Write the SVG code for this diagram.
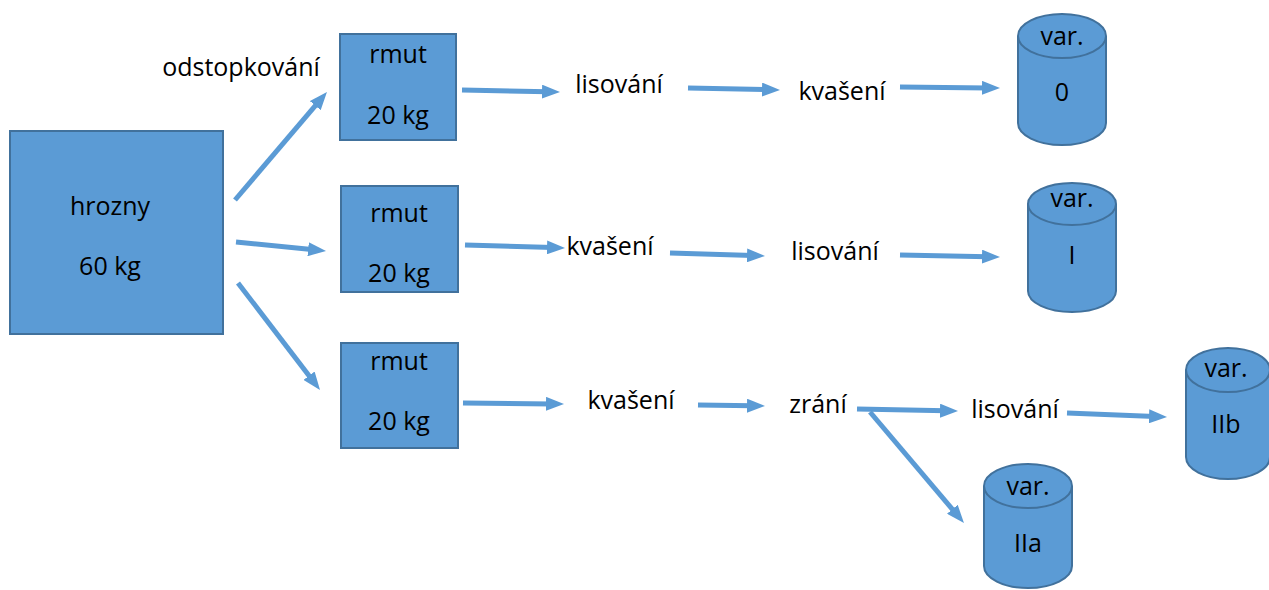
<svg xmlns="http://www.w3.org/2000/svg" width="1269" height="590" viewBox="0 0 1269 590">
<style>
.box{fill:#5B9BD5;stroke:#41719C;stroke-width:2}
.cyl{fill:#5B9BD5;stroke:#41719C;stroke-width:2}
text{font-family:"Open Sans","Liberation Sans",sans-serif;font-size:25px;fill:#000;text-anchor:middle}
.c line{stroke:#5B9BD5;stroke-width:5;fill:none;marker-end:url(#ah)}
</style>
<defs>
<marker id="ah" viewBox="0 0 18 14" markerWidth="18" markerHeight="14" refX="6" refY="7" markerUnits="userSpaceOnUse" orient="auto">
<path d="M0,0 L18,7 L0,14 z" fill="#5B9BD5"/>
</marker>
</defs>
<rect width="1269" height="590" fill="#fff"/>
<g id="hrozny"><rect class="box" x="10" y="131" width="213" height="203"/><text x="110" y="215">hrozny</text><text x="110" y="275">60 kg</text></g>
<g id="rmut1"><rect class="box" x="340" y="34" width="116" height="106"/><text x="398" y="63">rmut</text><text x="398" y="124">20 kg</text></g>
<g id="rmut2"><rect class="box" x="341" y="186" width="117" height="106"/><text x="399" y="222">rmut</text><text x="399" y="282">20 kg</text></g>
<g id="rmut3"><rect class="box" x="341" y="343" width="117" height="105"/><text x="399" y="370">rmut</text><text x="399" y="430">20 kg</text></g>
<g id="odstopkovani"><text x="241" y="76">odstopkování</text></g>
<g id="lis1"><text x="619" y="93">lisování</text></g>
<g id="kva1"><text x="842" y="100">kvašení</text></g>
<g id="kva2"><text x="610" y="255">kvašení</text></g>
<g id="lis2"><text x="835" y="260">lisování</text></g>
<g id="kva3"><text x="631" y="409">kvašení</text></g>
<g id="zrani"><text x="818" y="413">zrání</text></g>
<g id="lis3"><text x="1015" y="418">lisování</text></g>
<g id="var0"><path class="cyl" d="M1018,36 V123 A44,22 0 0 0 1106,123 V36"/><ellipse class="cyl" cx="1062" cy="36" rx="44" ry="22"/><text x="1062" y="45">var.</text><text x="1062" y="101">0</text></g>
<g id="varI"><path class="cyl" d="M1028,204 V291 A44,21 0 0 0 1116,291 V204"/><ellipse class="cyl" cx="1072" cy="204" rx="44" ry="21"/><text x="1072" y="207">var.</text><text x="1072" y="264">I</text></g>
<g id="varIIb"><path class="cyl" d="M1186,370 V457 A42,22 0 0 0 1270,457 V370"/><ellipse class="cyl" cx="1228" cy="370" rx="42" ry="22"/><text x="1226" y="377">var.</text><text x="1226" y="433">IIb</text></g>
<g id="varIIa"><path class="cyl" d="M984,486 V566 A44,22 0 0 0 1072,566 V486"/><ellipse class="cyl" cx="1028" cy="486" rx="44" ry="22"/><text x="1028" y="495">var.</text><text x="1028" y="552">IIa</text></g>
<g class="c" id="connectors">
<line x1="235" y1="200" x2="319.2" y2="101.1"/>
<line x1="236" y1="242" x2="314.1" y2="249.8"/>
<line x1="238" y1="283" x2="312.7" y2="380.5"/>
<line x1="462" y1="90" x2="548" y2="91.8"/>
<line x1="688" y1="88" x2="768" y2="89.7"/>
<line x1="900" y1="87" x2="988" y2="87.9"/>
<line x1="465" y1="245" x2="553" y2="247.6"/>
<line x1="670" y1="253" x2="753" y2="255.6"/>
<line x1="900" y1="255" x2="988" y2="256.8"/>
<line x1="463" y1="403" x2="552" y2="403.9"/>
<line x1="698" y1="405" x2="753" y2="405.8"/>
<line x1="857" y1="409" x2="946" y2="410.8"/>
<line x1="870" y1="412" x2="956.2" y2="513.8"/>
<line x1="1067" y1="413" x2="1155" y2="416.5"/>
</g>
</svg>
